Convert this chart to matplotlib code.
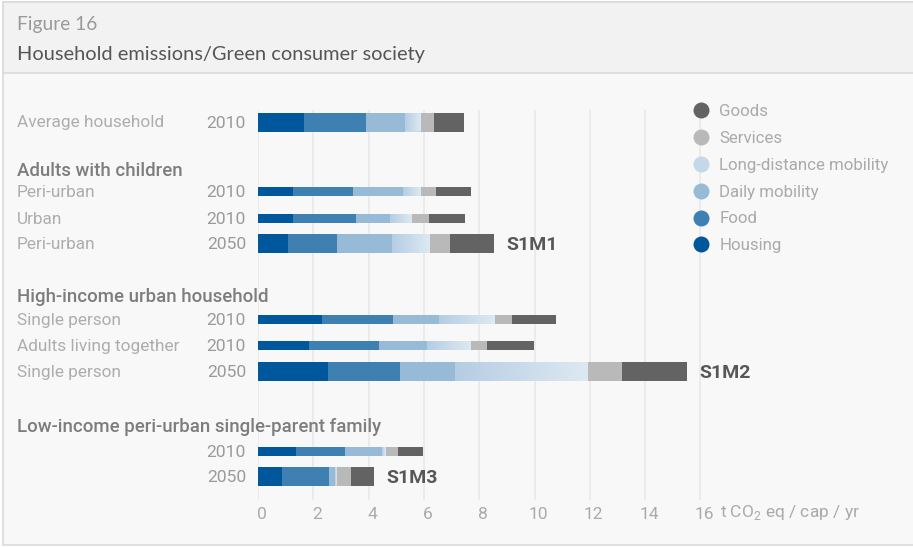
import numpy as np
import matplotlib
matplotlib.use("Agg")
import matplotlib.pyplot as plt
import matplotlib.transforms as mtransforms
from matplotlib.patches import Rectangle
from matplotlib.lines import Line2D
from matplotlib.colors import LinearSegmentedColormap

# data (t CO2 eq / cap / yr)
categories = ["Housing", "Food", "Daily mobility", "Long-distance mobility", "Services", "Goods"]
row_labels = ["Average household", "Peri-urban", "Urban", "Peri-urban",
              "Single person", "Adults living together", "Single person", "", ""]
years = ["2010", "2010", "2010", "2050", "2010", "2010", "2050", "2010", "2050"]
housing = [1.68, 1.28, 1.25, 1.07, 2.31, 1.83, 2.53, 1.39, 0.85]
food = [2.24, 2.17, 2.28, 1.77, 2.59, 2.56, 2.62, 1.76, 1.70]
daily = [1.41, 1.81, 1.26, 2.02, 1.63, 1.74, 1.99, 1.34, 0.24]
long_dist = [0.57, 0.62, 0.76, 1.34, 2.02, 1.56, 4.78, 0.12, 0.07]
services = [0.48, 0.54, 0.62, 0.76, 0.62, 0.61, 1.26, 0.47, 0.49]
goods = [1.08, 1.30, 1.30, 1.56, 1.59, 1.67, 2.35, 0.90, 0.85]
scenarios = ["", "", "", "S1M1", "", "", "S1M2", "", "S1M3"]
groups = ["Adults with children", "High-income urban household",
          "Low-income peri-urban single-parent family"]
xticks = [0, 2, 4, 6, 8, 10, 12, 14, 16]

# layout (pixel rows from top)
row_y = [122, 191.5, 218.5, 243.5, 319.5, 345.5, 371.5, 451.5, 476]
thick = [True, False, False, True, False, False, True, False, True]
group_y = [170, 295, 425]

colors = ["#01579b", "#3f80b3", "#97bbd6", "#c4d8e9", "#b9b9b9", "#636363"]
grad = LinearSegmentedColormap.from_list("ld", ["#b5cde3", "#dde9f2"])

plt.rcParams["font.family"] = ["Roboto", "DejaVu Sans"]
plt.rcParams["mathtext.fontset"] = "custom"
plt.rcParams["mathtext.rm"] = "Roboto"

W, H = 913, 547
fig = plt.figure(figsize=(W / 100, H / 100), dpi=100, facecolor="white")

# frame + header band
fig.patches.append(Rectangle((3 / W, 2 / H), 1, 543 / H, transform=fig.transFigure,
                             fc="#f8f8f8", ec="#dadada", lw=1.2, zorder=-10))
fig.patches.append(Rectangle((3 / W, (H - 73) / H), 1, 71 / H, transform=fig.transFigure,
                             fc="#f2f2f2", ec="#dadada", lw=1.2, zorder=-9))
fig.text(17 / W, 1 - 30 / H, "Figure 16", family="Lato", fontsize=13.8,
         color="#9a9a9a", va="baseline")
fig.text(17 / W, 1 - 60 / H, "Household emissions/Green consumer society", family="Lato",
         fontsize=14.4, color="#555555", va="baseline")

x0, pxu = 258, 27.65
ax = fig.add_axes([x0 / W, 47 / H, (W - x0) / W, 390 / H])
ax.set_facecolor("none")
for s in ax.spines.values():
    s.set_visible(False)
ax.set_yticks([])
ax.set_xticks(xticks)
ax.set_xticklabels([str(t) for t in xticks])
ax.tick_params(axis="x", length=0, pad=5, labelsize=12.5, labelcolor="#aaaaaa")
off = mtransforms.ScaledTranslation(4 / 100, 0, fig.dpi_scale_trans)
for lab in ax.get_xticklabels():
    lab.set_transform(lab.get_transform() + off)
ax.grid(axis="x", color="#e9e9e9", lw=1.2, zorder=0)
ax.set_axisbelow(True)

series = [housing, food, daily, long_dist, services, goods]
heights = [19 if t else 9 for t in thick]
left = np.zeros(len(row_y))
for k, (vals, col) in enumerate(zip(series, colors)):
    bars = ax.barh(row_y, vals, left=left, height=heights, color=col, lw=0, zorder=2)
    if categories[k] == "Long-distance mobility":
        for b in bars:
            im = ax.imshow(np.linspace(0, 1, 64).reshape(1, -1), cmap=grad, aspect="auto",
                           extent=(b.get_x(), b.get_x() + b.get_width(),
                                   b.get_y() + b.get_height(), b.get_y()), zorder=3)
            im.set_clip_path(b)
    left += np.array(vals)
ax.set_xlim(0, (W - x0) / pxu)
ax.set_ylim(500, 110)

for i, tot in enumerate(left):
    if scenarios[i]:
        ax.text(tot + 0.45, row_y[i], scenarios[i], fontsize=14, fontweight="bold",
                color="#575757", va="center_baseline", ha="left")

lab_tr = mtransforms.blended_transform_factory(fig.transFigure, ax.transData)
for i in range(len(row_y)):
    if row_labels[i]:
        ax.text(17 / W, row_y[i] + 5.5, row_labels[i], transform=lab_tr, fontsize=12.4,
                color="#adadad", va="baseline", clip_on=False)
    ax.text(246 / W, row_y[i] + 5.5, years[i], transform=lab_tr, fontsize=12.6,
            color="#9a9a9a", va="baseline", ha="right", clip_on=False)
for g, gy in zip(groups, group_y):
    ax.text(17 / W, gy + 6.5, g, transform=lab_tr, fontsize=13.4, fontweight="medium",
            color="#7d7d7d", va="baseline", clip_on=False)

fig.text(720 / W, 1 - 513 / H, r"t CO$_\mathregular{2}$ eq / cap / yr", fontsize=12.5,
         color="#aaaaaa", va="center")

handles = [Line2D([], [], ls="none", marker="o", markersize=11.5, mec="none", mfc=c, label=n)
           for n, c in zip(categories, colors)][::-1]
leg = fig.legend(handles=handles, loc="upper left", bbox_to_anchor=(693 / W, 1 - 104 / H),
                 frameon=False, fontsize=12.2, handlelength=1.0, handletextpad=0.55,
                 labelspacing=0.7, borderpad=0, borderaxespad=0)
for t in leg.get_texts():
    t.set_color("#aaaaaa")

fig.savefig("out.png", dpi=100, facecolor=fig.get_facecolor())
